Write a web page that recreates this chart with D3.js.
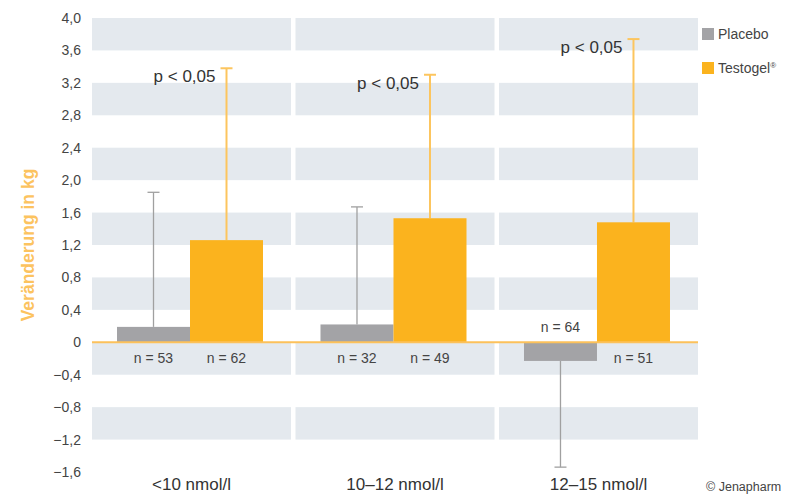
<!DOCTYPE html>
<html><head><meta charset="utf-8">
<script src="https://cdn.jsdelivr.net/npm/d3@7"></script>
<style>body{margin:0;background:#fff;}svg{display:block;font-family:"Liberation Sans",Arial,sans-serif;}</style>
</head><body>
<svg id="c" width="806" height="497"></svg>
<script>
const categories = ["<10 nmol/l", "10–12 nmol/l", "12–15 nmol/l"];
const series = ["Placebo", "Testogel®"];
const placeboMean = [0.19, 0.22, -0.23];
const placeboErr = [1.85, 1.67, -1.54];
const testogelMean = [1.26, 1.53, 1.48];
const testogelErr = [3.38, 3.30, 3.74];
const placeboN = ["n = 53", "n = 32", "n = 64"];
const testogelN = ["n = 62", "n = 49", "n = 51"];
const pLabels = ["p < 0,05", "p < 0,05", "p < 0,05"];
const yTicks = [4.0, 3.6, 3.2, 2.8, 2.4, 2.0, 1.6, 1.2, 0.8, 0.4, 0, -0.4, -0.8, -1.2, -1.6];

const colors = {Placebo: "#a3a3a6", "Testogel®": "#fbb31e"};
const errColors = {Placebo: "#a0a0a0", "Testogel®": "#fcc55e"};

const svg = d3.select("#c");
const y = d3.scaleLinear().domain([-1.6, 4.0]).range([472, 18]);
const x = d3.scaleBand().domain(categories).range([92, 698]).paddingInner(0.022);
const xi = d3.scaleBand().domain(series).range([25, 171]);

// background bands
const bands = [];
for (let i = 0; i < yTicks.length - 1; i++) {
  if (i % 2 === 0) bands.push([yTicks[i], yTicks[i+1]]);
}
categories.forEach(c => {
  svg.append("g").selectAll("rect").data(bands).join("rect")
    .attr("x", x(c)).attr("width", x.bandwidth())
    .attr("y", d => y(d[0])).attr("height", d => y(d[1]) - y(d[0]))
    .attr("fill", "#e4e9ee");
});

// y axis labels
const yAxis = d3.axisLeft(y).tickValues(yTicks).tickSize(0).tickPadding(0)
  .tickFormat(d => d === 0 ? "0" : d3.format(".1f")(d).replace(".", ",").replace("-", "−"));
const ya = svg.append("g").attr("transform", "translate(81,0)").call(yAxis);
ya.select(".domain").remove();
ya.selectAll("text").attr("font-size", 14).attr("fill", "#444").attr("font-family", "Liberation Sans, Arial, sans-serif");

svg.append("text").attr("transform", "translate(34,245) rotate(-90)")
  .attr("text-anchor", "middle").attr("font-size", 17.5).attr("font-weight", "bold")
  .attr("fill", "#fcc35f").text("Veränderung in kg");

const data = categories.map((c, i) => [
  {c, s: "Placebo", v: placeboMean[i], e: placeboErr[i], n: placeboN[i]},
  {c, s: "Testogel®", v: testogelMean[i], e: testogelErr[i], n: testogelN[i]}
]).flat();

const g = svg.append("g");
// error bars
data.forEach(d => {
  const cx = x(d.c) + xi(d.s) + xi.bandwidth() / 2;
  g.append("line").attr("x1", cx).attr("x2", cx).attr("y1", y(d.v)).attr("y2", y(d.e))
    .attr("stroke", errColors[d.s]).attr("stroke-width", d.s === "Placebo" ? 1.3 : 2);
  g.append("line").attr("x1", cx - 6).attr("x2", cx + 6).attr("y1", y(d.e)).attr("y2", y(d.e))
    .attr("stroke", errColors[d.s]).attr("stroke-width", d.s === "Placebo" ? 1.3 : 2);
});
// bars
g.selectAll("rect.bar").data(data).join("rect").attr("class", "bar")
  .attr("x", d => x(d.c) + xi(d.s)).attr("width", xi.bandwidth())
  .attr("y", d => y(Math.max(0, d.v))).attr("height", d => Math.abs(y(d.v) - y(0)))
  .attr("fill", d => colors[d.s]);

// zero line
svg.append("line").attr("x1", 92).attr("x2", 698).attr("y1", y(0)).attr("y2", y(0))
  .attr("stroke", "#fcc15a").attr("stroke-width", 2);

// n labels
svg.selectAll("text.n").data(data).join("text").attr("class", "n")
  .attr("x", d => x(d.c) + xi(d.s) + xi.bandwidth() / 2)
  .attr("y", d => d.v < 0 ? y(0) - 10 : y(0) + 21)
  .attr("text-anchor", "middle").attr("font-size", 14).attr("fill", "#444")
  .text(d => d.n);

// p labels
categories.forEach((c, i) => {
  const cx = x(c) + xi("Testogel®") + xi.bandwidth() / 2;
  svg.append("text").attr("x", cx - 11).attr("y", y(testogelErr[i]) + 14)
    .attr("text-anchor", "end").attr("font-size", 17).attr("fill", "#333").text(pLabels[i]);
});

// category labels
svg.selectAll("text.cat").data(categories).join("text").attr("class", "cat")
  .attr("x", d => x(d) + x.bandwidth() / 2).attr("y", 490)
  .attr("text-anchor", "middle").attr("font-size", 17).attr("fill", "#333").text(d => d);

// legend
const lg = svg.append("g").selectAll("g").data(series).join("g")
  .attr("transform", (d, i) => `translate(702,${28 + i * 34})`);
lg.append("rect").attr("width", 12).attr("height", 12).attr("fill", d => colors[d]);
lg.append("text").attr("x", 16).attr("y", 11).attr("font-size", 14).attr("fill", "#444")
  .each(function(d) {
    const t = d3.select(this);
    if (d.endsWith("®")) {
      t.append("tspan").text(d.slice(0, -1));
      t.append("tspan").attr("font-size", 8).attr("dy", -5).text("®");
    } else t.text(d);
  });

svg.append("text").attr("x", 706).attr("y", 491).attr("font-size", 12.5).attr("fill", "#444").text("© Jenapharm");
</script>
</body></html>
